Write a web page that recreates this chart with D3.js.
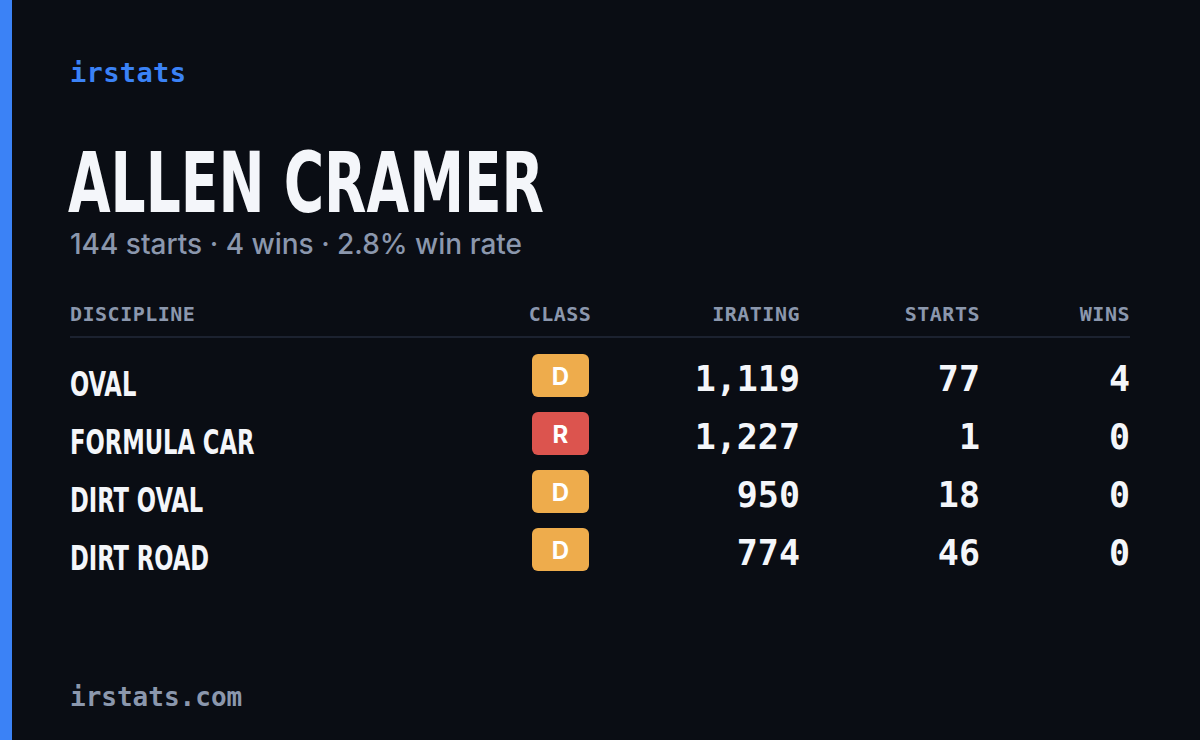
<!DOCTYPE html>
<html><head><meta charset="utf-8">
<script src="https://cdn.jsdelivr.net/npm/d3@7/dist/d3.min.js"></script>
<style>html,body{margin:0;padding:0;background:#0a0d14;}</style>
</head><body>
<script>
const disciplines = ["OVAL", "FORMULA CAR", "DIRT OVAL", "DIRT ROAD"];
const classes = ["D", "R", "D", "D"];
const iratings = [1119, 1227, 950, 774];
const starts = [77, 1, 18, 46];
const wins = [4, 0, 0, 0];
const headers = ["DISCIPLINE", "CLASS", "IRATING", "STARTS", "WINS"];
const driver = "ALLEN CRAMER";
const subtitle = "144 starts · 4 wins · 2.8% win rate";

const W = 1200, H = 740;
const svg = d3.select("body").append("svg").attr("width", W).attr("height", H);
svg.append("rect").attr("width", W).attr("height", H).attr("fill", "#0a0d14");
svg.append("rect").attr("width", 12).attr("height", H).attr("fill", "#3b82f6");

const mono = "'DejaVu Sans Mono', 'Liberation Mono', monospace";
const cond = "'Liberation Sans Narrow', 'DejaVu Sans Condensed', 'Roboto', sans-serif";
const sans = "'Inter', 'Noto Sans', sans-serif";

svg.append("text").attr("x", 70).attr("y", 82).attr("font-family", mono).attr("font-size", 27)
  .attr("font-weight", 700).attr("fill", "#3b82f6").attr("textLength", 116).text("irstats");
svg.append("text").attr("x", 68).attr("y", 212).attr("font-family", cond).attr("font-weight", 700)
  .attr("font-size", 84).attr("fill", "#f4f6fa").attr("textLength", 476).attr("lengthAdjust", "spacingAndGlyphs").text(driver);
svg.append("text").attr("x", 70).attr("y", 254).attr("font-family", sans).attr("font-size", 28)
  .attr("font-weight", 500).attr("fill", "#8b97ad").attr("textLength", 452).text(subtitle);

const colX = [70, 560, 800, 980, 1130];
const anchors = ["start", "middle", "end", "end", "end"];
svg.selectAll("text.hdr").data(headers).join("text").attr("class", "hdr")
  .attr("x", (d, i) => colX[i]).attr("y", 321)
  .each(function(d, i){ d3.select(this).attr("text-anchor", anchors[i]); })
  .attr("font-family", mono).attr("font-size", 20).attr("font-weight", 700).attr("letter-spacing", 0.5)
  .attr("fill", "#8b97ad").text(d => d);
svg.append("line").attr("x1", 70).attr("x2", 1130).attr("y1", 337).attr("y2", 337)
  .attr("stroke", "#1c2230").attr("stroke-width", 2);

const y = d3.scaleBand().domain(d3.range(disciplines.length)).range([347, 579]).padding(0);
const fmt = d3.format(",");
const classColor = {D: "#eeac4c", R: "#dc544e"};

const rows = svg.selectAll("g.row").data(disciplines).join("g").attr("class", "row")
  .attr("transform", (d, i) => `translate(0,${y(i)})`);
rows.append("text").attr("x", 70).attr("y", 49).attr("font-family", cond).attr("font-weight", 700)
  .attr("font-size", 34).attr("fill", "#f4f6fa").text(d => d)
  .each(function(){ const l = this.getComputedTextLength(); d3.select(this).attr("textLength", l*0.74).attr("lengthAdjust","spacingAndGlyphs"); });
rows.append("rect").attr("x", 532).attr("y", 7).attr("width", 57).attr("height", 43).attr("rx", 6)
  .attr("fill", (d, i) => classColor[classes[i]]);
rows.append("text").attr("x", 560.5).attr("y", 38).attr("text-anchor", "middle").attr("font-family", sans)
  .attr("font-weight", 700).attr("font-size", 24).attr("fill", "#ffffff").text((d, i) => classes[i]);
const num = (x, f) => rows.append("text").attr("x", x).attr("y", 44).attr("text-anchor", "end")
  .attr("font-family", mono).attr("font-size", 35).attr("font-weight", 700).attr("fill", "#f4f6fa").text(f);
num(800, (d, i) => fmt(iratings[i]));
num(980, (d, i) => starts[i]);
num(1130, (d, i) => wins[i]);

svg.append("text").attr("x", 70).attr("y", 706).attr("font-family", mono).attr("font-size", 26)
  .attr("font-weight", 700).attr("fill", "#8b97ad").text("irstats.com");
</script>
</body></html>
